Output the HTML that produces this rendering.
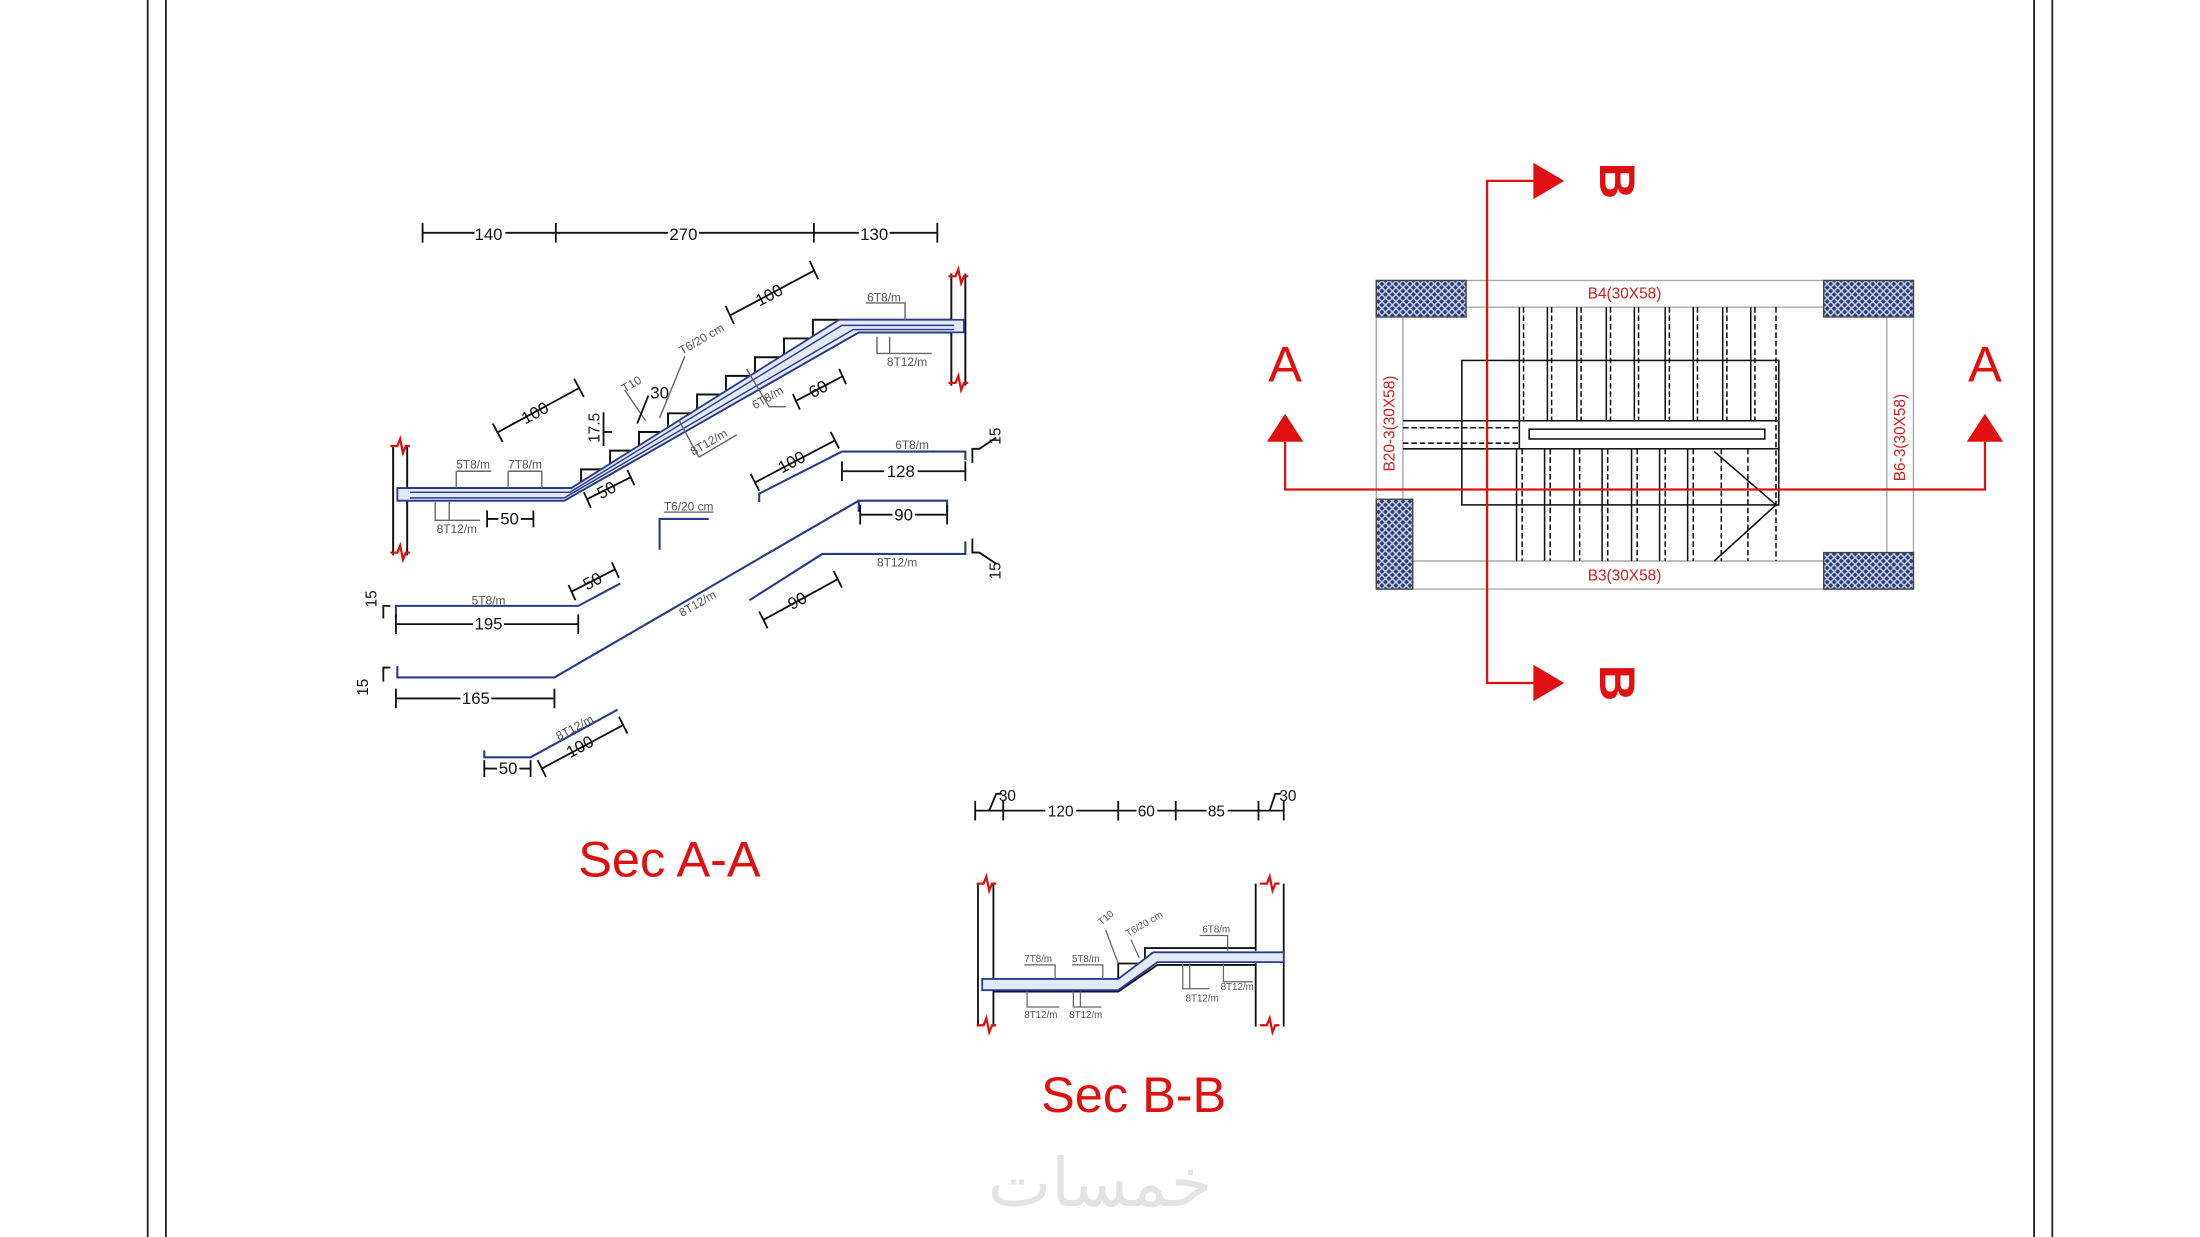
<!DOCTYPE html>
<html><head><meta charset="utf-8"><style>
html,body{margin:0;padding:0;background:#fff;}
svg{display:block;}
text{font-family:"Liberation Sans","DejaVu Sans",sans-serif;}
</style></head><body>
<svg width="2200" height="1237" viewBox="0 0 1568 882" xmlns="http://www.w3.org/2000/svg">
<defs>
<pattern id="hatch" width="5" height="5" patternUnits="userSpaceOnUse">
<rect width="5" height="5" fill="#2e3d78"/>
<path d="M0 0L5 5M5 0L0 5" stroke="#cfd6ea" stroke-width="1"/>
</pattern>
<g id="brk"><path d="M-7 0H-2L0 -5L2 5L4 0H7" fill="none" stroke="#e01010" stroke-width="1.6"/></g>
</defs>
<rect width="1568" height="882" fill="#fff"/>
<g stroke="#222" stroke-width="1.3">
<line x1="105" y1="0" x2="105" y2="882"/><line x1="118" y1="0" x2="118" y2="882"/>
<line x1="1450" y1="0" x2="1450" y2="882"/><line x1="1463" y1="0" x2="1463" y2="882"/>
</g>

<!-- ================= SEC A-A ================= -->
<g stroke="#111" stroke-width="1.3" fill="none">
<line x1="301" y1="166" x2="668" y2="166"/>
<line x1="301" y1="159" x2="301" y2="173"/><line x1="396" y1="159" x2="396" y2="173"/>
<line x1="580" y1="159" x2="580" y2="173"/><line x1="668" y1="159" x2="668" y2="173"/>
</g>
<g font-size="12" text-anchor="middle" fill="#111">
<rect x="338" y="159" width="22" height="13" fill="#fff"/><text x="348" y="171">140</text>
<rect x="476" y="159" width="22" height="13" fill="#fff"/><text x="487" y="171">270</text>
<rect x="612" y="159" width="22" height="13" fill="#fff"/><text x="623" y="171">130</text>
</g>
<g stroke="#111" stroke-width="1.4" fill="none">
<line x1="280" y1="318" x2="280" y2="396"/><line x1="290" y1="318" x2="290" y2="348"/><line x1="290" y1="357" x2="290" y2="396"/>
<line x1="678" y1="195" x2="678" y2="228"/><line x1="678" y1="237" x2="678" y2="275"/><line x1="688" y1="195" x2="688" y2="275"/>
</g>
<use href="#brk" x="285" y="318"/><use href="#brk" x="285" y="394"/>
<use href="#brk" x="683" y="197"/><use href="#brk" x="683" y="273"/>
<path d="M290 348H414V334.7H434.7V321.3H455.3V308H476V294.7H496.7V281.3H517.3V268H538V254.7H558.7V241.3H579.3V228H678" fill="none" stroke="#111" stroke-width="1.4"/>
<path d="M290 357H402L612 237H678" fill="none" stroke="#111" stroke-width="1.4"/>
<path d="M283 348H407L598 228H687V237H612L402 357H283Z" fill="#e4e9f7" stroke="#2a3a8c" stroke-width="1.3"/>
<path d="M292 351H406L600 232H680" fill="none" stroke="#2a3a8c" stroke-width="1"/>
<path d="M292 355H402L608 235H680" fill="none" stroke="#2a3a8c" stroke-width="1"/>
<g stroke="#666" stroke-width="1" fill="none">
<path d="M325 336H350M325 336V348"/><path d="M362 336H386M362 336V348M386 336V348"/>
<path d="M310 358V371H342M320 358V371"/>
<path d="M617 216H645V228"/><path d="M625 240V252H664M634 240V252"/>
<path d="M532 263L548 290H560"/><path d="M484 300L498 326M498 326L525 310"/>
<path d="M488 254L470 298"/><path d="M445 278L460 300"/>
</g>
<g font-size="8.5" fill="#555">
<text x="325" y="334">5T8/m</text><text x="362" y="334">7T8/m</text>
<text x="311" y="380">8T12/m</text><text x="618" y="215">6T8/m</text><text x="632" y="261">8T12/m</text>
<text x="538" y="292" transform="rotate(-30 538 292)">6T8/m</text>
<text x="494" y="325" transform="rotate(-30 494 325)">8T12/m</text>
<text x="486" y="253" transform="rotate(-30 486 253)">T6/20 cm</text>
<text x="445" y="280" transform="rotate(-30 445 280)">T10</text>
</g>
<g stroke="#111" stroke-width="1.3" fill="none">
<line x1="355" y1="308" x2="412" y2="277"/><line x1="351" y1="302" x2="358" y2="315"/><line x1="409" y1="270" x2="416" y2="283"/>
<line x1="520" y1="225" x2="580" y2="193"/><line x1="517" y1="218" x2="523" y2="231"/><line x1="577" y1="186" x2="583" y2="199"/>
<line x1="418" y1="356" x2="450" y2="340"/><line x1="416" y1="351" x2="421" y2="362"/><line x1="447" y1="335" x2="452" y2="346"/>
<line x1="567" y1="286" x2="601" y2="268"/><line x1="565" y1="281" x2="570" y2="292"/><line x1="598" y1="263" x2="603" y2="274"/>
<line x1="347" y1="370" x2="380" y2="370"/><line x1="347" y1="364" x2="347" y2="376"/><line x1="380" y1="364" x2="380" y2="376"/>
<line x1="430" y1="294" x2="430" y2="318"/><line x1="430" y1="308" x2="436" y2="308"/>
<path d="M454 302L462 282"/>
</g>
<g font-size="12" fill="#111" text-anchor="middle">
<text x="383" y="298" transform="rotate(-28 383 298)">100</text>
<text x="550" y="214" transform="rotate(-28 550 214)">100</text>
<text x="434" y="353" transform="rotate(-28 434 353)">50</text>
<text x="585" y="281" transform="rotate(-28 585 281)">60</text>
<rect x="355" y="364" width="16" height="12" fill="#fff" stroke="none"/><text x="363" y="374">50</text>
<text x="470" y="284">30</text>
<text x="427" y="305" font-size="11" transform="rotate(-90 427 305)">17.5</text>
</g>
<g stroke="#2a3a8c" stroke-width="1.5" fill="none">
<path d="M470 392V370H505"/>
<path d="M541 358V352L600 322H688V328"/>
<path d="M612 365V357H675V365"/>
<path d="M534 428L586 395H688V386"/>
<path d="M282 440V432H412L442 416"/>
<path d="M283 475V483H395L612 357"/>
<path d="M345 535V540H378L440 506"/>
</g>
<g stroke="#111" stroke-width="1.3" fill="none">
<line x1="600" y1="336" x2="688" y2="336"/><line x1="600" y1="329" x2="600" y2="343"/><line x1="688" y1="329" x2="688" y2="343"/>
<line x1="613" y1="367" x2="675" y2="367"/><line x1="613" y1="360" x2="613" y2="374"/><line x1="675" y1="360" x2="675" y2="374"/>
<line x1="282" y1="445" x2="412" y2="445"/><line x1="282" y1="438" x2="282" y2="452"/><line x1="412" y1="438" x2="412" y2="452"/>
<line x1="282" y1="498" x2="395" y2="498"/><line x1="282" y1="491" x2="282" y2="505"/><line x1="395" y1="491" x2="395" y2="505"/>
<line x1="345" y1="548" x2="378" y2="548"/><line x1="345" y1="542" x2="345" y2="554"/><line x1="378" y1="542" x2="378" y2="554"/>
<line x1="538" y1="344" x2="595" y2="314"/><line x1="535" y1="338" x2="541" y2="350"/><line x1="592" y1="308" x2="598" y2="320"/>
<line x1="544" y1="442" x2="597" y2="413"/><line x1="541" y1="436" x2="547" y2="448"/><line x1="594" y1="407" x2="600" y2="419"/>
<line x1="407" y1="422" x2="438" y2="406"/><line x1="405" y1="417" x2="410" y2="428"/><line x1="436" y1="401" x2="441" y2="412"/>
<line x1="386" y1="548" x2="444" y2="517"/><line x1="383" y1="542" x2="389" y2="554"/><line x1="441" y1="511" x2="447" y2="523"/>
<path d="M693 330V320H698L710 312"/><path d="M693 384V394H698L710 402"/>
<path d="M273 441V432H278"/><path d="M273 486V476H278"/>
</g>
<g font-size="12" fill="#111" text-anchor="middle">
<rect x="630" y="330" width="24" height="12" fill="#fff"/><text x="642" y="340">128</text>
<rect x="636" y="361" width="16" height="12" fill="#fff"/><text x="644" y="371">90</text>
<rect x="337" y="439" width="22" height="12" fill="#fff"/><text x="348" y="449">195</text>
<rect x="328" y="492" width="22" height="12" fill="#fff"/><text x="339" y="502">165</text>
<rect x="354" y="542" width="16" height="12" fill="#fff"/><text x="362" y="552">50</text>
<text x="566" y="333" transform="rotate(-28 566 333)">100</text>
<text x="570" y="432" transform="rotate(-28 570 432)">90</text>
<text x="424" y="418" transform="rotate(-28 424 418)">50</text>
<text x="415" y="536" transform="rotate(-28 415 536)">100</text>
<text x="713" y="311" font-size="11" transform="rotate(-90 713 311)">15</text>
<text x="713" y="407" font-size="11" transform="rotate(-90 713 407)">15</text>
<text x="268" y="427" font-size="11" transform="rotate(-90 268 427)">15</text>
<text x="262" y="490" font-size="11" transform="rotate(-90 262 490)">15</text>
</g>
<g font-size="8.5" fill="#555">
<text x="638" y="320">6T8/m</text><text x="625" y="404">8T12/m</text><text x="336" y="431">5T8/m</text>
<text x="473" y="364" text-decoration="underline">T6/20 cm</text>
<text x="486" y="440" transform="rotate(-30 486 440)">8T12/m</text>
<text x="398" y="528" transform="rotate(-28 398 528)">8T12/m</text>
</g>
<text x="477" y="625" font-size="36" fill="#e01010" text-anchor="middle">Sec A-A</text>

<!-- ================= SEC B-B ================= -->
<g stroke="#111" stroke-width="1.3" fill="none">
<line x1="695" y1="578" x2="915" y2="578"/>
<line x1="695" y1="571" x2="695" y2="585"/><line x1="715" y1="571" x2="715" y2="585"/><line x1="797" y1="571" x2="797" y2="585"/>
<line x1="838" y1="571" x2="838" y2="585"/><line x1="897" y1="571" x2="897" y2="585"/><line x1="915" y1="571" x2="915" y2="585"/>
<path d="M705 578L710 566H714"/><path d="M905 578L909 566H913"/>
<line x1="697" y1="630" x2="697" y2="732"/><line x1="708" y1="630" x2="708" y2="698"/><line x1="708" y1="706" x2="708" y2="732"/>
<line x1="895" y1="630" x2="895" y2="678"/><line x1="895" y1="686" x2="895" y2="732"/><line x1="915" y1="630" x2="915" y2="732"/>
<path d="M708 698H797V687H816V676H895"/>
<path d="M708 707H797L825 688H895"/>
</g>
<g font-size="11" fill="#111" text-anchor="middle">
<rect x="745" y="572" width="22" height="12" fill="#fff"/><text x="756" y="582">120</text>
<rect x="810" y="572" width="15" height="12" fill="#fff"/><text x="817" y="582">60</text>
<rect x="860" y="572" width="15" height="12" fill="#fff"/><text x="867" y="582">85</text>
<text x="718" y="571">30</text><text x="918" y="571">30</text>
</g>
<use href="#brk" x="703" y="630"/><use href="#brk" x="703" y="731"/>
<use href="#brk" x="905" y="630"/><use href="#brk" x="905" y="731"/>
<path d="M700 698H797L822 679H915V686H825L797 706H700Z" fill="#e4e9f7" stroke="#2a3a8c" stroke-width="1.3"/>
<g stroke="#666" stroke-width="0.9" fill="none">
<path d="M730 688H752V698"/><path d="M764 688H786V698"/><path d="M855 667H875V678"/>
<path d="M732 707V718H755"/><path d="M765 707V718H785M770 707V718"/>
<path d="M843 687V705H862M848 687V705"/><path d="M872 687V700H893"/>
<path d="M788 663L797 687"/><path d="M806 670L812 683"/>
</g>
<g font-size="7" fill="#555">
<text x="730" y="686">7T8/m</text><text x="764" y="686">5T8/m</text><text x="857" y="665">6T8/m</text>
<text x="730" y="726">8T12/m</text><text x="762" y="726">8T12/m</text>
<text x="845" y="714">8T12/m</text><text x="870" y="706">8T12/m</text>
<text x="785" y="660" transform="rotate(-40 785 660)">T10</text>
<text x="804" y="668" transform="rotate(-30 804 668)">T6/20 cm</text>
</g>
<text x="808" y="793" font-size="36" fill="#e01010" text-anchor="middle">Sec B-B</text>

<!-- ================= PLAN ================= -->
<g stroke="#aaa" stroke-width="1" fill="none">
<rect x="981" y="200" width="383" height="220"/>
<line x1="1045" y1="219" x2="1300" y2="219"/><line x1="1007" y1="400" x2="1300" y2="400"/>
<line x1="1000" y1="226" x2="1000" y2="356"/><line x1="1345" y1="226" x2="1345" y2="394"/>
</g>
<g stroke="#444" stroke-width="1">
<rect x="981" y="200" width="64" height="26" fill="url(#hatch)"/>
<rect x="1300" y="200" width="64" height="26" fill="url(#hatch)"/>
<rect x="981" y="356" width="26" height="64" fill="url(#hatch)"/>
<rect x="1300" y="394" width="64" height="26" fill="url(#hatch)"/>
</g>
<g stroke="#111" stroke-width="1.1" fill="none">
<rect x="1042" y="257" width="226" height="103"/>
<rect x="1083" y="300" width="185" height="20" fill="#fff"/>
<rect x="1090" y="306" width="168" height="7"/>
<line x1="1000" y1="300" x2="1083" y2="300"/><line x1="1000" y1="320" x2="1083" y2="320"/>
<path d="M1222 322L1266 360L1222 400"/>
<line x1="1083" y1="219" x2="1083" y2="300"/><line x1="1103" y1="219" x2="1103" y2="300"/><line x1="1124" y1="219" x2="1124" y2="300"/>
<line x1="1145" y1="219" x2="1145" y2="300"/><line x1="1165" y1="219" x2="1165" y2="300"/><line x1="1187" y1="219" x2="1187" y2="300"/>
<line x1="1207" y1="219" x2="1207" y2="300"/><line x1="1228" y1="219" x2="1228" y2="300"/><line x1="1248" y1="219" x2="1248" y2="300"/>
<line x1="1081" y1="320" x2="1081" y2="400"/><line x1="1101" y1="320" x2="1101" y2="400"/><line x1="1122" y1="320" x2="1122" y2="400"/>
<line x1="1142" y1="320" x2="1142" y2="400"/><line x1="1163" y1="320" x2="1163" y2="400"/><line x1="1183" y1="320" x2="1183" y2="400"/>
<line x1="1203" y1="320" x2="1203" y2="400"/>
</g>
<g stroke="#111" stroke-width="1.1" stroke-dasharray="4 2" fill="none">
<line x1="1000" y1="305" x2="1083" y2="305"/><line x1="1000" y1="316" x2="1083" y2="316"/>
<line x1="1086" y1="219" x2="1086" y2="300"/><line x1="1106" y1="219" x2="1106" y2="300"/><line x1="1127" y1="219" x2="1127" y2="300"/>
<line x1="1148" y1="219" x2="1148" y2="300"/><line x1="1168" y1="219" x2="1168" y2="300"/><line x1="1190" y1="219" x2="1190" y2="300"/>
<line x1="1210" y1="219" x2="1210" y2="300"/><line x1="1231" y1="219" x2="1231" y2="300"/><line x1="1251" y1="219" x2="1251" y2="300"/>
<line x1="1266" y1="219" x2="1266" y2="400"/>
<line x1="1085" y1="320" x2="1085" y2="400"/><line x1="1105" y1="320" x2="1105" y2="400"/><line x1="1126" y1="320" x2="1126" y2="400"/>
<line x1="1146" y1="320" x2="1146" y2="400"/><line x1="1167" y1="320" x2="1167" y2="400"/><line x1="1187" y1="320" x2="1187" y2="400"/>
<line x1="1207" y1="320" x2="1207" y2="400"/><line x1="1227" y1="320" x2="1227" y2="400"/><line x1="1246" y1="320" x2="1246" y2="400"/>
</g>
<g font-size="11" fill="#d02020" text-anchor="middle">
<text x="1158" y="213">B4(30X58)</text><text x="1158" y="414">B3(30X58)</text>
<text x="994" y="302" transform="rotate(-90 994 302)">B20-3(30X58)</text>
<text x="1358" y="312" transform="rotate(-90 1358 312)">B6-3(30X58)</text>
</g>
<g stroke="#e01010" stroke-width="1.6" fill="none">
<path d="M916 315V349H1415V315"/>
<path d="M1093 129H1060V487H1093"/>
</g>
<g fill="#e01010">
<polygon points="903,315 929,315 916,295"/><polygon points="1402,315 1428,315 1415,295"/>
<polygon points="1093,116 1115,129 1093,142"/><polygon points="1093,474 1115,487 1093,500"/>
</g>
<g font-size="36" fill="#e01010" text-anchor="middle">
<text x="916" y="272">A</text><text x="1415" y="272">A</text>
<text x="1148" y="129" font-weight="bold" transform="rotate(90 1148 129)" dominant-baseline="middle" dy="-2">B</text>
<text x="1148" y="487" font-weight="bold" transform="rotate(90 1148 487)" dominant-baseline="middle" dy="-2">B</text>
</g>
<text x="784" y="860" font-size="48" fill="#e3e3e3" text-anchor="middle" font-family="DejaVu Sans, sans-serif">خمسات</text>
</svg>
</body></html>
